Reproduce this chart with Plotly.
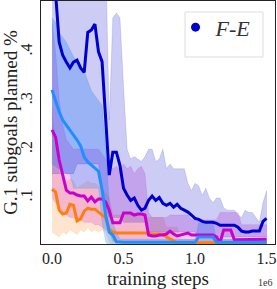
import numpy as np
import plotly.graph_objects as go

# training-step checkpoints (every 25k steps, 0 .. 1.5e6)
steps = np.arange(61) * 25000

fe_mean = [0.58, 0.52, 0.42, 0.393, 0.379, 0.367, 0.379, 0.383, 0.367, 0.358,
           0.44, 0.445, 0.457, 0.40, 0.38, 0.26, 0.147, 0.194, 0.194, 0.167,
           0.12, 0.106, 0.095, 0.10, 0.085, 0.075, 0.079, 0.095, 0.104, 0.095,
           0.101, 0.089, 0.085, 0.089, 0.081, 0.087, 0.079, 0.075, 0.071, 0.065,
           0.058, 0.056, 0.052, 0.05, 0.05, 0.05, 0.048, 0.044, 0.044, 0.044,
           0.044, 0.044, 0.04, 0.032, 0.03, 0.03, 0.032, 0.032, 0.032, 0.052, 0.058]
fe_hi = [0.6] * 16 + [0.26, 0.47, 0.48, 0.47, 0.33, 0.20, 0.18, 0.185, 0.18, 0.175,
         0.185, 0.20, 0.20, 0.175, 0.18, 0.20, 0.16, 0.17, 0.16, 0.16,
         0.16, 0.16, 0.13, 0.115, 0.13, 0.125, 0.105, 0.12, 0.10, 0.09,
         0.10, 0.10, 0.08, 0.075, 0.075, 0.075, 0.065, 0.06, 0.075, 0.07,
         0.07, 0.06, 0.05, 0.09, 0.115]
fe_lo = [0.15] * 7 + [0.17] * 7 + [0.12, 0.08] + [0.06] * 4 + [0.05] * 7 + [0.03] * 14 + [0.02] * 20

lb_mean = [0.322, 0.297, 0.277, 0.26, 0.25, 0.24, 0.231, 0.219, 0.207, 0.184,
           0.174, 0.168, 0.161, 0.155, 0.117, 0.065, 0.03, 0.024, 0.01, 0.009,
           0.009, 0.009, 0.009, 0.009, 0.009, 0.009, 0.009, 0.009, 0.009, 0.009,
           0.009, 0.009, 0.009, 0.009, 0.009, 0.009, 0.009, 0.009, 0.009, 0.009,
           0.009, 0.02, 0.02, 0.02, 0.02, 0.02, 0.009, 0.009, 0.009, 0.009,
           0.009, 0.009, 0.009, 0.009, 0.009, 0.009, 0.009, 0.009, 0.009, 0.009, 0.009]
lb_hi = [0.47, 0.46, 0.44, 0.43, 0.42, 0.405, 0.39, 0.38, 0.37, 0.36,
         0.34, 0.32, 0.31, 0.30, 0.29, 0.20, 0.09, 0.05, 0.03] + [0.015] * 22 + \
        [0.048] * 5 + [0.015] * 15
lb_lo = [0.17, 0.165, 0.16, 0.155, 0.15, 0.15] + [0.12] * 8 + [0.05, 0.01] + [0.0] * 45

mg_mean = [0.24, 0.225, 0.178, 0.145, 0.116, 0.11, 0.11, 0.106, 0.104, 0.104,
           0.094, 0.102, 0.092, 0.098, 0.098, 0.092, 0.075, 0.049, 0.049, 0.049,
           0.069, 0.069, 0.069, 0.065, 0.067, 0.067, 0.065, 0.024, 0.022, 0.022,
           0.024, 0.024, 0.026, 0.032, 0.026, 0.022, 0.024, 0.026, 0.028, 0.024,
           0.024, 0.024, 0.024, 0.024, 0.024, 0.024, 0.02, 0.009, 0.034, 0.034,
           0.034, 0.014, 0.014, 0.014, 0.014, 0.014, 0.014, 0.015, 0.015, 0.015, 0.015]
mg_hi = [0.46, 0.40, 0.30, 0.25, 0.22, 0.21, 0.20, 0.20, 0.20, 0.20,
         0.20, 0.20, 0.20, 0.20, 0.19, 0.18, 0.17, 0.16, 0.165, 0.155,
         0.17, 0.16, 0.165, 0.15, 0.16, 0.165, 0.15, 0.07, 0.06, 0.06,
         0.06, 0.06, 0.06, 0.065, 0.065, 0.065, 0.065, 0.065, 0.065, 0.055,
         0.055, 0.055, 0.055, 0.055, 0.055, 0.055, 0.055, 0.07, 0.07, 0.07,
         0.07, 0.07, 0.07, 0.045, 0.045, 0.045, 0.045, 0.045, 0.045, 0.045, 0.045]
mg_lo = [0.10, 0.09, 0.08, 0.07, 0.065, 0.06, 0.06, 0.055, 0.055, 0.05,
         0.05, 0.05, 0.045, 0.045, 0.04, 0.035, 0.03] + [0.01] * 10 + [0.003] * 34

or_mean = [0.118, 0.112, 0.075, 0.067, 0.069, 0.087, 0.085, 0.053, 0.057, 0.073,
           0.079, 0.077, 0.077, 0.071, 0.065, 0.059, 0.036, 0.03] + [0.028] * 10 + \
          [0.026] * 4 + [0.02, 0.016, 0.011] + [0.008] * 26
or_hi = [0.27, 0.22, 0.15, 0.135, 0.13, 0.14, 0.135, 0.12, 0.125, 0.13,
         0.135, 0.13, 0.13, 0.125, 0.12, 0.11, 0.10] + [0.065] * 9 + [0.06] * 6 + \
        [0.04] * 4 + [0.015] * 25
or_lo = [0.03, 0.025, 0.02, 0.03, 0.025, 0.035, 0.03, 0.025, 0.035, 0.03,
         0.04, 0.03, 0.035, 0.03, 0.035, 0.03, 0.01] + [0.0] * 44

series = [
    ("D-E", or_mean, or_hi, or_lo, "#ff7f0e", "rgba(255,127,14,0.2)"),
    ("M", mg_mean, mg_hi, mg_lo, "#cc00cc", "rgba(204,0,204,0.2)"),
    ("L", lb_mean, lb_hi, lb_lo, "#1e90ff", "rgba(30,144,255,0.28)"),
    ("F-E", fe_mean, fe_hi, fe_lo, "#0000cc", "rgba(0,0,204,0.2)"),
]

fig = go.Figure()
xs = list(steps)
for name, m, hi, lo, col, fillc in series:
    fig.add_trace(go.Scatter(
        x=xs + xs[::-1], y=list(hi) + list(lo)[::-1], fill="toself",
        fillcolor=fillc, line=dict(width=0.6, color=fillc), mode="lines",
        hoverinfo="skip", showlegend=False))
for name, m, hi, lo, col, fillc in series:
    fig.add_trace(go.Scatter(x=xs, y=m, mode="lines", line=dict(color=col, width=3),
                             showlegend=False))

fig.add_trace(go.Scatter(x=[None], y=[None], mode="markers",
                         marker=dict(color="#0000cc", size=9),
                         name="<i>F-E</i>", showlegend=True))

font_family = "Liberation Serif"
fig.update_layout(
    width=277, height=289,
    margin=dict(l=41, r=2, t=1, b=45),
    paper_bgcolor="white", plot_bgcolor="white",
    font=dict(family=font_family, size=16, color="#222"),
    showlegend=True,
    legend=dict(x=0.575, y=0.978, xanchor="left", yanchor="top",
                bgcolor="rgba(0,0,0,0)", borderwidth=0,
                font=dict(size=22, color="#333", family=font_family),
                itemwidth=30),
    xaxis=dict(range=[-77000, 1559000], tickvals=[0, 500000, 1000000, 1500000],
               ticktext=["0.0", "0.5", "1.0", "1.5"], showgrid=False, zeroline=False,
               showline=True, linecolor="#222", linewidth=1.3, mirror=True,
               ticks="", automargin=False,
               title=dict(text="training steps", standoff=6)),
    yaxis=dict(range=[0.0055, 0.5045], tickvals=[0.1, 0.2, 0.3, 0.4],
               ticktext=[".1", ".2", ".3", ".4"], tickangle=-90,
               ticklabelstandoff=1,
               showgrid=False, zeroline=False, automargin=False,
               showline=True, linecolor="#222", linewidth=1.3, mirror=True,
               ticks="", title=dict(text="G.1 subgoals planned %", standoff=2)),
)
# legend frame
x0, x1, y0, y1 = 185, 263, 12, 57
fig.add_shape(type="rect", xref="paper", yref="paper",
              x0=(x0 - 41) / 234, x1=(x1 - 41) / 234,
              y0=1 - (y1 - 1) / 243, y1=1 - (y0 - 1) / 243,
              line=dict(color="#dddddd", width=1), fillcolor="rgba(255,255,255,0.85)",
              layer="above")
fig.add_annotation(text="1e6", xref="paper", yref="paper", x=(265 - 41) / 234,
                   y=-0.16, showarrow=False, font=dict(size=10, color="#333"),
                   xanchor="center", yanchor="middle")
fig.write_html("out.html", config={"displayModeBar": False},
               post_script="document.body.style.margin='0';")
